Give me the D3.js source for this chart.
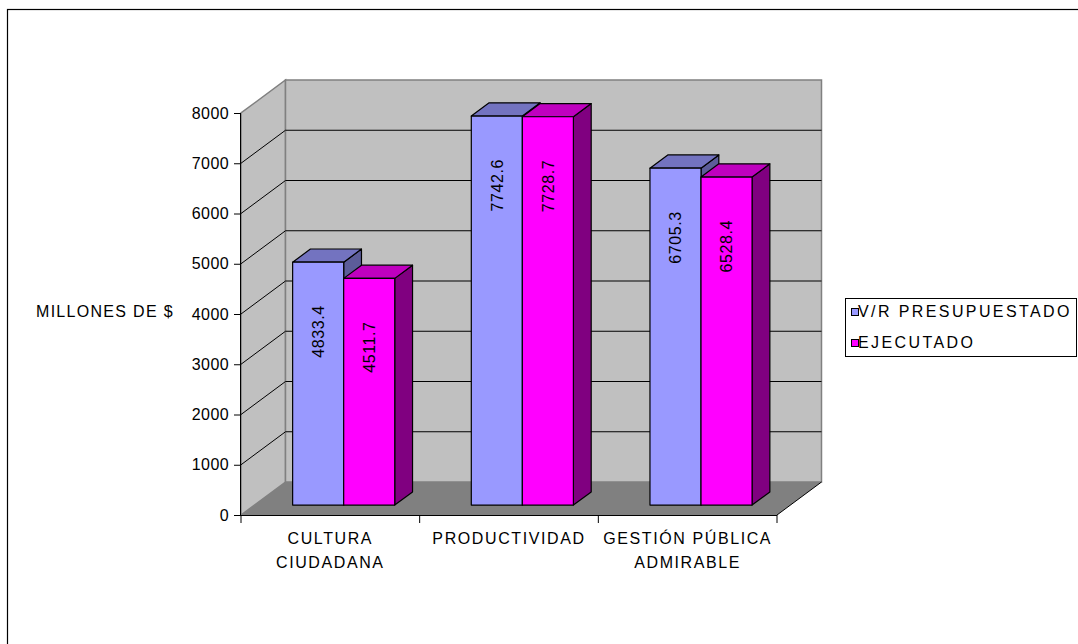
<!DOCTYPE html>
<html><head><meta charset="utf-8">
<script src="https://cdn.jsdelivr.net/npm/d3@7"></script>
<style>
html,body{margin:0;padding:0;background:#fff;}
svg{display:block;font-family:"Liberation Sans",Arial,sans-serif;}
</style></head>
<body>
<svg id="chart" width="1078" height="644"></svg>
<script>
const categories = [["CULTURA","CIUDADANA"],["PRODUCTIVIDAD"],["GESTIÓN PÚBLICA","ADMIRABLE"]];
const seriesNames = ["V/R PRESUPUESTADO","EJECUTADO"];
const presupuestado = [4833.4, 7742.6, 6705.3];
const ejecutado = [4511.7, 7728.7, 6528.4];
const yTicks = [0,1000,2000,3000,4000,5000,6000,7000,8000];
const yTitle = "MILLONES DE $";

const svg = d3.select("#chart");
const W = 1078, H = 644;

// outer chart border
svg.append("rect").attr("x",7.5).attr("y",9.5).attr("width",W).attr("height",H)
  .attr("fill","#fff").attr("stroke","#000").attr("stroke-width",1.2);

const x0 = 241, x1 = 777, yTop = 113, yBot = 515;
const DX = 44.5, DY = -33;          // depth offset of back wall
const y = d3.scaleLinear().domain([0,8000]).range([yBot, yTop]);
const catIdx = d3.range(categories.length);
const xg = d3.scaleBand().domain(catIdx).range([x0,x1]).paddingInner(0).paddingOuter(0);
const xs = d3.scaleBand().domain([0,1]).range([0, xg.bandwidth()]).paddingInner(0).paddingOuter(0.75);

const P = (px,py,d)=>[px + DX*d, py + DY*d];
const line = d3.line();

// side wall
svg.append("path").attr("d", line([[x0,yBot],[x0,yTop],P(x0,yTop,1),P(x0,yBot,1)]) + "Z")
  .attr("fill","#c0c0c0").attr("stroke","#808080").attr("stroke-width",1.5);
// back wall
svg.append("path").attr("d", line([P(x0,yTop,1),P(x1,yTop,1),P(x1,yBot,1),P(x0,yBot,1)]) + "Z")
  .attr("fill","#c0c0c0").attr("stroke","#808080").attr("stroke-width",1.5);
// floor
svg.append("path").attr("d", line([[x0,yBot],[x1,yBot],P(x1,yBot,1),P(x0,yBot,1)]) + "Z")
  .attr("fill","#808080").attr("stroke","none");
svg.append("path").attr("d", line([[x1,yBot],P(x1,yBot,1)]))
  .attr("stroke","#000").attr("fill","none");

// gridlines (skip 0 and top)
yTicks.filter(v=>v>0 && v<8000).forEach(v=>{
  const yy = y(v);
  svg.append("path").attr("d", line([[x0,yy],P(x0,yy,1),P(x1,yy,1)]))
    .attr("stroke","#000").attr("stroke-width",1).attr("fill","none");
});

// axes
const yAxis = d3.axisLeft(y).tickValues(yTicks).tickSize(7).tickPadding(5).tickFormat(d3.format("d"));
const gy = svg.append("g").attr("transform",`translate(${x0},0)`).call(yAxis);
gy.select(".domain").attr("stroke","#000").attr("d",`M-0.5,${yTop}V${yBot}`);
gy.selectAll("text").attr("font-size",16).attr("fill","#000").attr("font-family","Liberation Sans, Arial").attr("letter-spacing","0.4px");
gy.selectAll("line").attr("stroke","#000");

// x axis line and ticks
svg.append("line").attr("x1",x0).attr("x2",x1).attr("y1",yBot+0.5).attr("y2",yBot+0.5).attr("stroke","#000");
const xticks = catIdx.map(i=>xg(i)).concat([x1]);
xticks.forEach(t=>{
  svg.append("line").attr("x1",t).attr("x2",t).attr("y1",yBot).attr("y2",yBot+8).attr("stroke","#000");
});
// category labels
catIdx.forEach(i=>{
  const t = svg.append("text").attr("x", xg(i)+xg.bandwidth()/2).attr("y", 544)
    .attr("text-anchor","middle").attr("font-size",16).attr("letter-spacing","1.6px");
  categories[i].forEach((ln,k)=>{
    t.append("tspan").attr("x", xg(i)+xg.bandwidth()/2).attr("dy", k===0?0:23.5).text(ln);
  });
});

// y title
svg.append("text").attr("x",36).attr("y",317).attr("font-size",16).attr("letter-spacing","1.3px").text(yTitle);

// bars
const colors = [
  {front:"#9999FF", top:"#7373C0", side:"#5C5C99"},
  {front:"#FF00FF", top:"#BF00BF", side:"#800080"}
];
const dF = 0.3, dB = 0.7;
const series = [presupuestado, ejecutado];
catIdx.forEach(i=>{
  series.forEach((vals,s)=>{
    const v = vals[i];
    const bx = xg(i) + xs(s), bw = xs.bandwidth();
    const [fxl, fyb] = P(bx, y(0), dF);
    const [fxr] = P(bx+bw, y(0), dF);
    const [, fyt] = P(bx, y(v), dF);
    const ddx = DX*(dB-dF), ddy = DY*(dB-dF);
    const c = colors[s];
    const g = svg.append("g").attr("stroke","#000").attr("stroke-width",1.2).attr("stroke-linejoin","round");
    // side
    g.append("path").attr("d", line([[fxr,fyt],[fxr+ddx,fyt+ddy],[fxr+ddx,fyb+ddy],[fxr,fyb]])+"Z").attr("fill",c.side);
    // top
    g.append("path").attr("d", line([[fxl,fyt],[fxl+ddx,fyt+ddy],[fxr+ddx,fyt+ddy],[fxr,fyt]])+"Z").attr("fill",c.top);
    // front
    g.append("path").attr("d", line([[fxl,fyt],[fxr,fyt],[fxr,fyb],[fxl,fyb]])+"Z").attr("fill",c.front);
    // label
    const cx = (fxl+fxr)/2, ly = fyt + 43;
    svg.append("text").attr("transform",`translate(${cx},${ly}) rotate(-90)`)
      .attr("text-anchor","end").attr("dy","0.36em").attr("font-size",16).attr("letter-spacing","0.6px")
      .text(d3.format(".1f")(v));
  });
});

// legend
const lg = svg.append("g");
lg.append("rect").attr("x",845.5).attr("y",298.5).attr("width",231).attr("height",58)
  .attr("fill","#fff").attr("stroke","#000");
seriesNames.forEach((n,k)=>{
  const yy = 317 + k*31;
  lg.append("rect").attr("x",851.5).attr("y",yy-8.5).attr("width",7).attr("height",7)
    .attr("fill",colors[k].front).attr("stroke","#000");
  lg.append("text").attr("x",858).attr("y",yy).attr("font-size",16).attr("letter-spacing","2.4px").text(n);
});
</script>
</body></html>
